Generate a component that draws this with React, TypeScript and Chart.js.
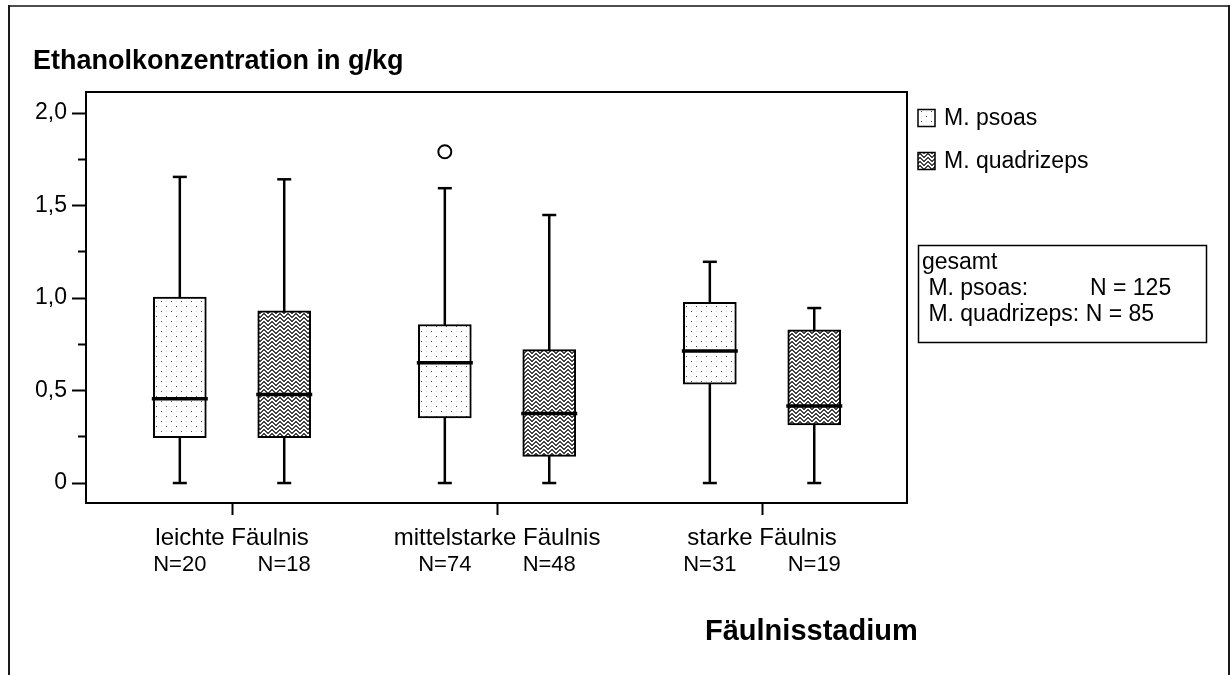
import React, { useEffect, useRef } from "react";
import { Chart, registerables } from "chart.js";

Chart.register(...registerables);

// ---------------- data ----------------
const categories = ["leichte Fäulnis", "mittelstarke Fäulnis", "starke Fäulnis"];
const seriesLabels = ["M. psoas", "M. quadrizeps"];

const psoasMin = [0, 0, 0];
const psoasQ1 = [0.245, 0.352, 0.535];
const psoasMedian = [0.455, 0.65, 0.714];
const psoasQ3 = [1.005, 0.857, 0.977];
const psoasMax = [1.655, 1.594, 1.196];
const psoasN = ["N=20", "N=74", "N=31"];

const quadMin = [0, 0, 0];
const quadQ1 = [0.245, 0.144, 0.314];
const quadMedian = [0.479, 0.376, 0.417];
const quadQ3 = [0.931, 0.721, 0.828];
const quadMax = [1.642, 1.449, 0.946];
const quadN = ["N=18", "N=48", "N=19"];

const outlierCategory = [2];
const outlierSeries = [0];
const outlierValue = [1.791];

const yTickValues = [0, 0.5, 1.0, 1.5, 2.0];
const yTickLabels = ["0", "0,5", "1,0", "1,5", "2,0"];
const yMinorValues = [0.25, 0.75, 1.25, 1.75];

const totalTitle = "gesamt";
const totalN = [125, 85];

const chartTitle = "Ethanolkonzentration in g/kg";
const xTitle = "Fäulnisstadium";

// ---------------- helpers ----------------
const FONT = "'Liberation Sans', Arial, Helvetica, sans-serif";
const SERIES_OFFSET = 0.197;

function makeDots(): CanvasPattern {
  const c = document.createElement("canvas");
  c.width = 10;
  c.height = 10;
  const g = c.getContext("2d")!;
  g.fillStyle = "#ffffff";
  g.fillRect(0, 0, 10, 10);
  g.fillStyle = "#dcdcdc";
  g.fillRect(6, 1, 1, 1);
  g.fillRect(1, 6, 1, 1);
  g.fillStyle = "#4a4a4a";
  g.fillRect(1, 1, 1, 1);
  g.fillRect(6, 6, 1, 1);
  return g.createPattern(c, "repeat")!;
}

function makeWeave(): CanvasPattern {
  const rows = [
    "11000011",
    "01100110",
    "00111100",
    "10011001",
    "11000011",
    "01100110",
    "00111100",
    "10011001",
  ];
  const c = document.createElement("canvas");
  c.width = 8;
  c.height = 8;
  const g = c.getContext("2d")!;
  for (let y = 0; y < 8; y++) {
    for (let x = 0; x < 8; x++) {
      g.fillStyle = rows[y][x] === "1" ? "#ffffff" : "#454545";
      g.fillRect(x, y, 1, 1);
    }
  }
  return g.createPattern(c, "repeat")!;
}

export default function App() {
  const ref = useRef<HTMLCanvasElement>(null);

  useEffect(() => {
    const canvas = ref.current!;
    const dots = makeDots();
    const weave = makeWeave();

    const xPs = categories.map((_, i) => i + 1 - SERIES_OFFSET);
    const xQu = categories.map((_, i) => i + 1 + SERIES_OFFSET);
    const boxX = [...xPs, ...xQu];
    const allMin = [...psoasMin, ...quadMin];
    const allMax = [...psoasMax, ...quadMax];
    const allMed = [...psoasMedian, ...quadMedian];
    const nLabels = [...psoasN, ...quadN];

    const whiskers: any[] = [];
    boxX.forEach((x, i) => {
      whiskers.push({ x, y: allMin[i] });
      whiskers.push({ x, y: allMax[i] });
      whiskers.push({ x, y: null });
    });

    const caps: any[] = [];
    boxX.forEach((x, i) => {
      caps.push({ x, y: allMin[i] });
      caps.push({ x, y: allMax[i] });
    });

    const outliers = outlierValue.map((v, i) => ({
      x: outlierCategory[i] + (outlierSeries[i] === 0 ? -SERIES_OFFSET : SERIES_OFFSET),
      y: v,
    }));

    const decor = {
      id: "decor",
      afterDraw(chart: any) {
        const ctx = chart.ctx as CanvasRenderingContext2D;
        const a = chart.chartArea;
        ctx.save();
        // outer frame
        ctx.fillStyle = "#4d4d4d";
        ctx.fillRect(8, 5, 1222, 2);
        ctx.fillStyle = "#1a1a1a";
        ctx.fillRect(8, 5, 2, 670);
        ctx.fillRect(1228, 5, 2, 670);
        // plot frame
        ctx.strokeStyle = "#000";
        ctx.lineWidth = 2;
        ctx.strokeRect(a.left, a.top, a.right - a.left, a.bottom - a.top);
        // titles
        ctx.fillStyle = "#000";
        ctx.textAlign = "left";
        ctx.textBaseline = "alphabetic";
        ctx.font = `bold 27px ${FONT}`;
        ctx.fillText(chartTitle, 33, 69);
        ctx.font = `bold 29px ${FONT}`;
        ctx.fillText(xTitle, 705, 640);
        // legend
        const pats = [dots, weave];
        const ys = [118, 161];
        ctx.font = `23px ${FONT}`;
        seriesLabels.forEach((lab, i) => {
          const s = 17;
          ctx.fillStyle = pats[i];
          ctx.fillRect(918, ys[i] - s / 2, s, s);
          ctx.strokeStyle = "#000";
          ctx.lineWidth = 1.5;
          ctx.strokeRect(918, ys[i] - s / 2, s, s);
          ctx.fillStyle = "#000";
          ctx.textBaseline = "middle";
          ctx.fillText(lab, 944, ys[i] + 1);
        });
        // totals box
        ctx.lineWidth = 1.5;
        ctx.strokeStyle = "#000";
        ctx.strokeRect(918.5, 245.5, 288, 97);
        ctx.textBaseline = "alphabetic";
        ctx.font = `23px ${FONT}`;
        ctx.fillText(totalTitle, 922, 269);
        ctx.fillText(" " + seriesLabels[0] + ":", 922, 295);
        ctx.fillText("N = " + totalN[0], 1090, 295);
        ctx.fillText(" " + seriesLabels[1] + ": N = " + totalN[1], 922, 321);
        ctx.restore();
      },
    };

    const chart = new Chart(canvas, {
      type: "bar",
      data: {
        datasets: [
          {
            type: "line",
            label: "whiskers",
            data: whiskers,
            borderColor: "#000",
            borderWidth: 2.5,
            pointRadius: 0,
            spanGaps: false,
            order: 5,
          } as any,
          {
            type: "bar",
            label: seriesLabels[0],
            data: xPs.map((x, i) => ({ x, y: [psoasQ1[i], psoasQ3[i]] })),
            backgroundColor: dots,
            borderColor: "#000",
            borderWidth: 2,
            borderSkipped: false,
            barThickness: 53,
            grouped: false,
            order: 4,
          } as any,
          {
            type: "bar",
            label: seriesLabels[1],
            data: xQu.map((x, i) => ({ x, y: [quadQ1[i], quadQ3[i]] })),
            backgroundColor: weave,
            borderColor: "#000",
            borderWidth: 2,
            borderSkipped: false,
            barThickness: 53,
            grouped: false,
            order: 4,
          } as any,
          {
            type: "scatter",
            label: "median",
            data: boxX.map((x, i) => ({ x, y: allMed[i] })),
            pointStyle: "line",
            pointRadius: 28,
            pointBorderWidth: 3.5,
            pointBorderColor: "#000",
            borderColor: "#000",
            order: 2,
          } as any,
          {
            type: "scatter",
            label: "caps",
            data: caps,
            pointStyle: "line",
            pointRadius: 7,
            pointBorderWidth: 2.5,
            pointBorderColor: "#000",
            borderColor: "#000",
            order: 2,
          } as any,
          {
            type: "scatter",
            label: "outliers",
            data: outliers,
            pointStyle: "circle",
            pointRadius: 6.5,
            pointBorderWidth: 2,
            pointBorderColor: "#000",
            pointBackgroundColor: "#fff",
            order: 1,
          } as any,
        ],
      },
      options: {
        responsive: false,
        animation: false,
        devicePixelRatio: 1,
        layout: { padding: { left: 18, top: 92, right: 323, bottom: 91 } },
        plugins: {
          legend: { display: false },
          tooltip: { enabled: false },
          title: { display: false },
        },
        scales: {
          x: {
            type: "linear",
            position: "bottom",
            weight: 0,
            min: 0.449,
            max: 3.547,
            offset: false,
            afterBuildTicks: (scale: any) => {
              scale.ticks = categories.map((_, i) => ({ value: i + 1 }));
            },
            afterFit: (scale: any) => {
              scale.height = 49;
            },
            ticks: {
              autoSkip: false,
              maxRotation: 0,
              padding: 9,
              color: "#000",
              font: { family: FONT, size: 24 },
              callback: (v: any) => categories[Math.round(v) - 1] ?? "",
            },
            grid: {
              display: true,
              drawOnChartArea: false,
              drawTicks: true,
              tickLength: 12,
              tickColor: "#000",
              tickWidth: 2,
              offset: false,
            },
            border: { display: false },
          } as any,
          xN: {
            type: "linear",
            position: "bottom",
            weight: 1,
            min: 0.449,
            max: 3.547,
            offset: false,
            afterBuildTicks: (scale: any) => {
              scale.ticks = boxX.map((x) => ({ value: x }));
            },
            afterFit: (scale: any) => {
              scale.height = 32;
            },
            ticks: {
              autoSkip: false,
              maxRotation: 0,
              padding: 0,
              color: "#000",
              font: { family: FONT, size: 22 },
              callback: (v: any) => {
                const idx = boxX.findIndex((b) => Math.abs(b - v) < 1e-6);
                return idx >= 0 ? nLabels[idx] : "";
              },
            },
            grid: { display: false, drawTicks: false },
            border: { display: false },
          } as any,
          y: {
            type: "linear",
            min: -0.108,
            max: 2.114,
            afterBuildTicks: (scale: any) => {
              scale.ticks = [...yTickValues, ...yMinorValues]
                .sort((p, q) => p - q)
                .map((v) => ({ value: v }));
            },
            afterFit: (scale: any) => {
              scale.width = 68;
            },
            ticks: {
              padding: 5,
              color: "#000",
              font: { family: FONT, size: 23 },
              callback: (v: any) => {
                const idx = yTickValues.findIndex((t) => Math.abs(t - v) < 1e-6);
                return idx >= 0 ? yTickLabels[idx] : "";
              },
            },
            grid: {
              display: true,
              drawOnChartArea: false,
              drawTicks: true,
              tickLength: 14,
              tickColor: "#000",
              tickWidth: 2,
              tickBorderDash: (c: any) => {
                const v = c.tick ? c.tick.value : 0;
                const major = yTickValues.some((t) => Math.abs(t - v) < 1e-6);
                return major ? [] : [0, 6, 8, 100];
              },
            },
            border: { display: false },
          } as any,
        },
      },
      plugins: [decor],
    } as any);

    return () => chart.destroy();
  }, []);

  return (
    <div
      style={{
        position: "absolute",
        left: 0,
        top: 0,
        width: 1230,
        height: 675,
        background: "#fff",
        overflow: "hidden",
      }}
    >
      <canvas
        ref={ref}
        width={1230}
        height={675}
        style={{ display: "block", width: 1230, height: 675 }}
      />
    </div>
  );
}
